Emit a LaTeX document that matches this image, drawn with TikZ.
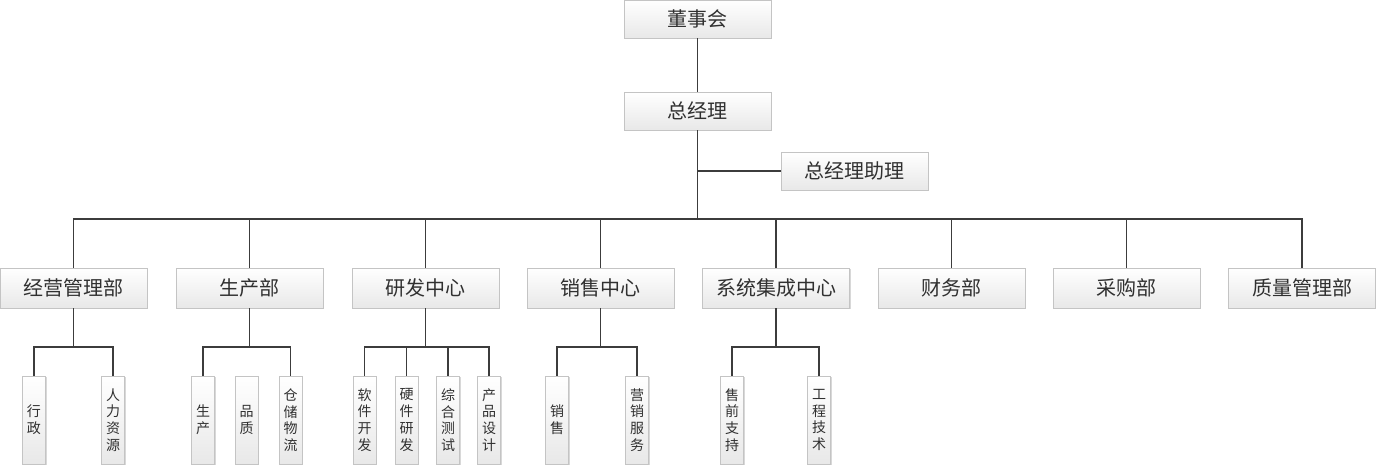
\documentclass[tikz,border=0pt]{standalone}
\usepackage{fontspec}
\newfontfamily\cjk{Noto Sans CJK SC}
\usetikzlibrary{shadows}
\definecolor{bordergray}{HTML}{C4C4C4}
\definecolor{linegray}{HTML}{3C3C3C}
\definecolor{textgray}{HTML}{303030}
\tikzset{
  box/.style={draw=bordergray, line width=0.8pt, top color=white, bottom color=black!9,
    drop shadow={shadow xshift=1pt, shadow yshift=-1.2pt, fill=black!22, opacity=0.7},
    text=textgray, inner sep=0pt, font=\cjk\fontsize{20}{24}\selectfont},
  bigbox/.style={box, minimum width=147pt, minimum height=38pt},
  deptbox/.style={box, minimum width=147pt, minimum height=40pt},
  leafbox/.style={box, minimum width=23pt, minimum height=88pt, align=center,
    font=\cjk\fontsize{14}{16.7}\selectfont},
  conn/.style={draw=linegray, line width=1.3pt}
}
\begin{document}
\begin{tikzpicture}[x=1pt,y=-1pt]
\useasboundingbox (0,0) rectangle (1376,466);
% top
\node[bigbox] (dsh) at (697.5,19) {董事会};
\node[bigbox] (zjl) at (697.5,111) {总经理};
\node[bigbox] (zl) at (854.5,171) {总经理助理};
% departments
\node[deptbox] (d1) at (73.5,288) {经营管理部};
\node[deptbox] (d2) at (249.5,288) {生产部};
\node[deptbox] (d3) at (425.5,288) {研发中心};
\node[deptbox] (d4) at (600.5,288) {销售中心};
\node[deptbox] (d5) at (776,288) {系统集成中心};
\node[deptbox] (d6) at (951.5,288) {财务部};
\node[deptbox] (d7) at (1126.5,288) {采购部};
\node[deptbox] (d8) at (1302,288) {质量管理部};
% leaves
\node[leafbox] (l11) at (34,420) {行\\政};
\node[leafbox] (l12) at (113,420) {人\\力\\资\\源};
\node[leafbox] (l21) at (203,420) {生\\产};
\node[leafbox] (l22) at (246.5,420) {品\\质};
\node[leafbox] (l23) at (290.5,420) {仓\\储\\物\\流};
\node[leafbox] (l31) at (364.5,420) {软\\件\\开\\发};
\node[leafbox] (l32) at (406.5,420) {硬\\件\\研\\发};
\node[leafbox] (l33) at (448,420) {综\\合\\测\\试};
\node[leafbox] (l34) at (489,420) {产\\品\\设\\计};
\node[leafbox] (l41) at (557,420) {销\\售};
\node[leafbox] (l42) at (637,420) {营\\销\\服\\务};
\node[leafbox] (l51) at (732,420) {售\\前\\支\\持};
\node[leafbox] (l52) at (819,420) {工\\程\\技\\术};
% bus coordinates
\coordinate (bus) at (0,219);
\coordinate (sb) at (0,347);
% connectors
\draw[conn] (dsh.south) -- (zjl.north);
\draw[conn] (zjl.south) -- (zjl.south |- bus);
\draw[conn] (zl.west) -- (zl.west -| zjl.south);
\draw[conn] (d1.north) -- (d1.north |- bus) -- (d8.north |- bus) -- (d8.north);
\foreach \d in {d2,d3,d4,d5,d6,d7}{
  \draw[conn] (\d.north) -- (\d.north |- bus);
}
% sub buses
\foreach \p in {d1,d2,d3,d4,d5}{
  \draw[conn] (\p.south) -- (\p.south |- sb);
}
\draw[conn] (l11.north) -- (l11.north |- sb) -- (l12.north |- sb) -- (l12.north);
\draw[conn] (l21.north) -- (l21.north |- sb) -- (l23.north |- sb) -- (l23.north);
\draw[conn] (l31.north) -- (l31.north |- sb) -- (l34.north |- sb) -- (l34.north);
\draw[conn] (l32.north) -- (l32.north |- sb);
\draw[conn] (l33.north) -- (l33.north |- sb);
\draw[conn] (l41.north) -- (l41.north |- sb) -- (l42.north |- sb) -- (l42.north);
\draw[conn] (l51.north) -- (l51.north |- sb) -- (l52.north |- sb) -- (l52.north);
\end{tikzpicture}
\end{document}
